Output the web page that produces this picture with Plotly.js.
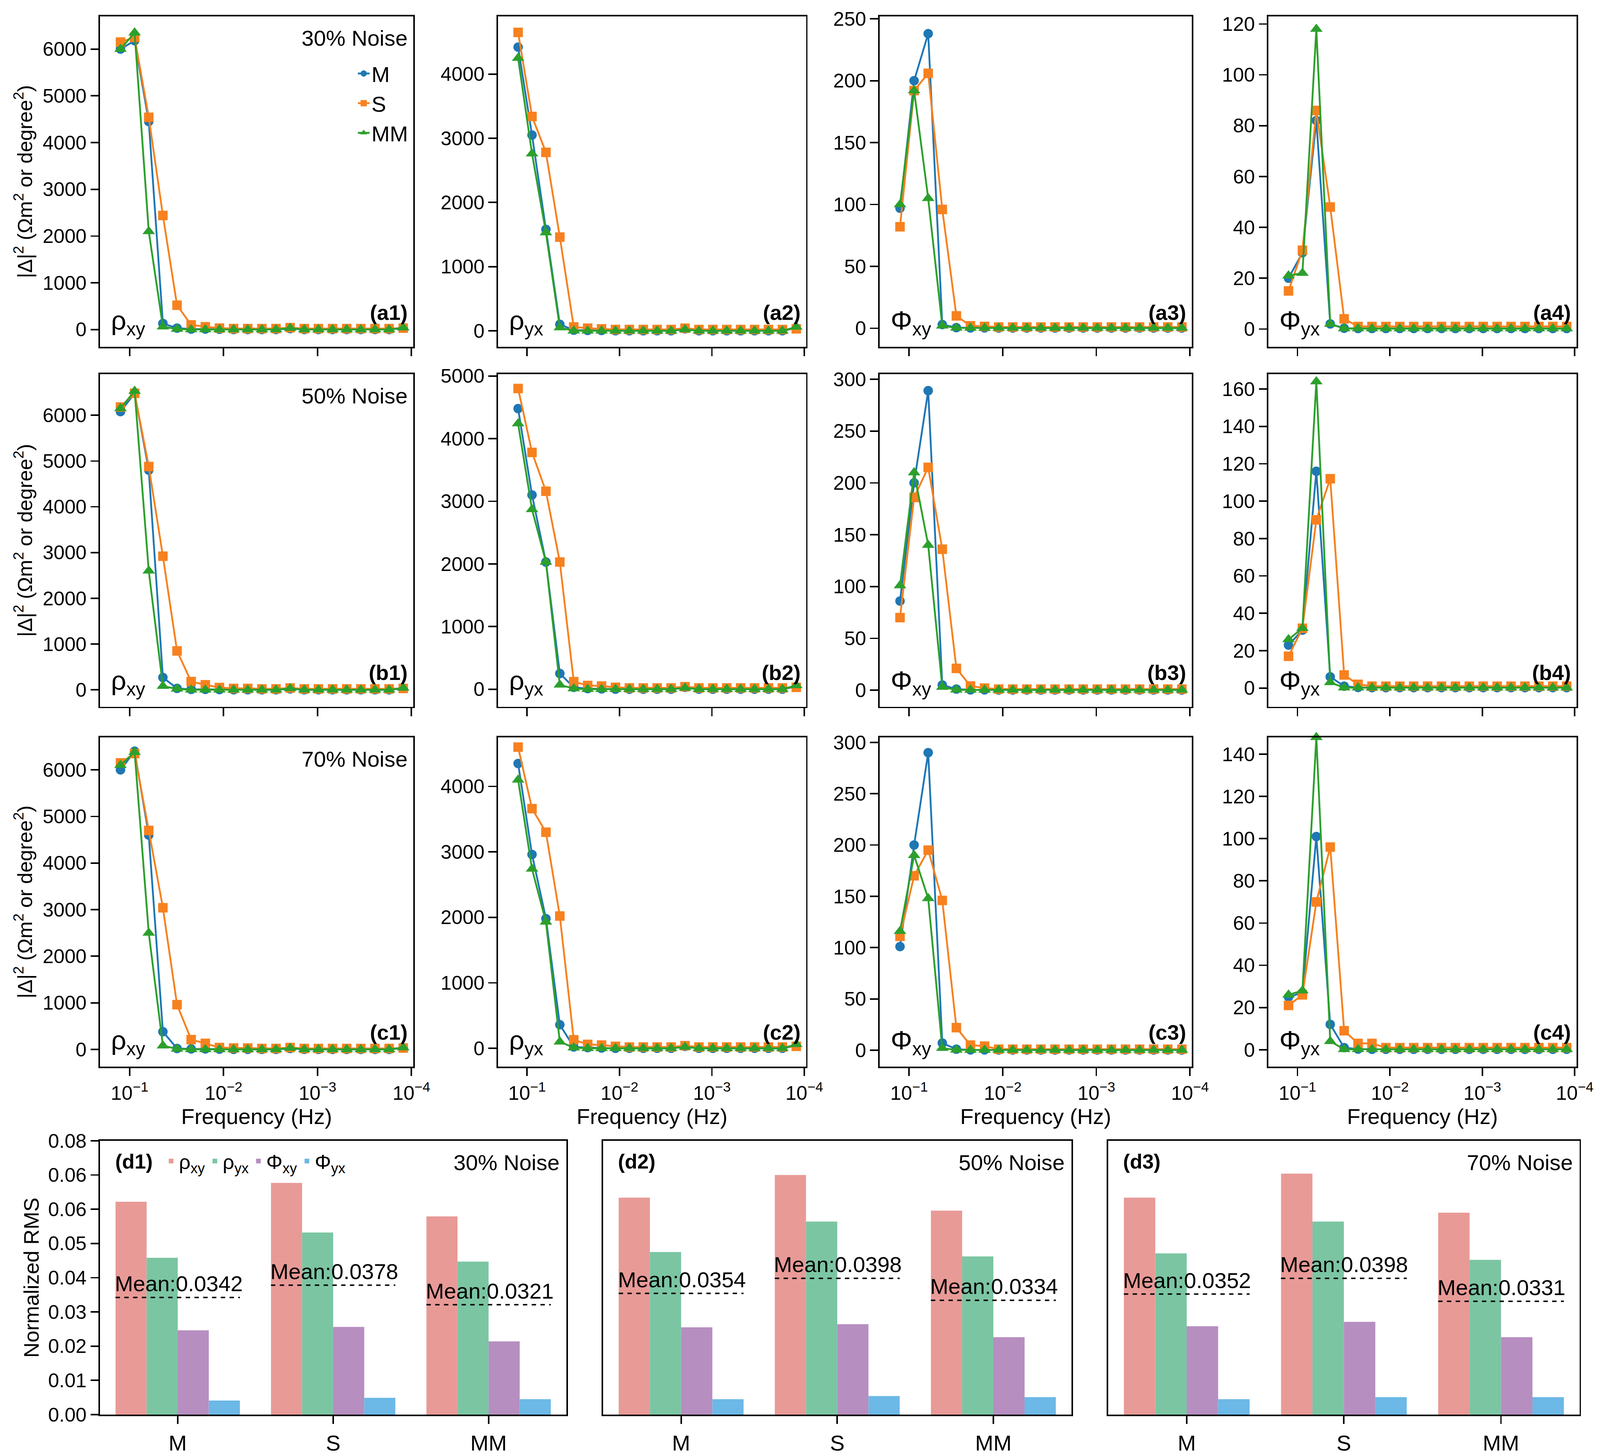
<!DOCTYPE html>
<html>
<head>
<meta charset="utf-8">
<script src="https://cdn.plot.ly/plotly-3.0.1.min.js"></script>
<style>html,body{margin:0;padding:0;overflow:hidden;background:#fff}</style>
</head>
<body>
<div id="graph"></div>
<script>
// Frequencies (Hz), half-octave steps
const freqs = [0.125, 0.0884, 0.0625, 0.0442, 0.03125, 0.0221, 0.015625, 0.01105, 0.0078125, 0.005524,
  0.0039063, 0.002762, 0.0019531, 0.001381, 0.00097656, 0.0006905, 0.00048828, 0.00034527, 0.00024414,
  0.00017263, 0.00012207];

const methods = ["M", "S", "MM"];
const noiseLabels = ["30% Noise", "50% Noise", "70% Noise"];
const panelTags = ["a", "b", "c"];
const compLabels = ["ρ<sub>xy</sub>", "ρ<sub>yx</sub>", "Φ<sub>xy</sub>", "Φ<sub>yx</sub>"];

// |Δ|² per panel [row][col] = {M, S, MM}
const lineData = [
  [
    { M: [6000, 6180, 4450, 130, 30, 10, 10, 5, 0, 0, 0, 0, 20, 0, 0, 0, 0, 0, 0, 0, 30],
      S: [6150, 6250, 4540, 2440, 520, 100, 60, 30, 20, 20, 20, 20, 40, 20, 20, 20, 20, 20, 20, 20, 30],
      MM: [6000, 6350, 2100, 60, 10, 0, 0, 0, 0, 0, 0, 0, 30, 0, 0, 0, 0, 0, 0, 0, 40] },
    { M: [4420, 3050, 1580, 100, 10, 5, 5, 0, 0, 0, 0, 0, 30, 0, 0, 0, 0, 0, 0, 0, 40],
      S: [4650, 3340, 2780, 1460, 60, 40, 30, 20, 20, 20, 20, 20, 40, 20, 20, 20, 20, 20, 20, 20, 30],
      MM: [4250, 2760, 1530, 50, 0, 0, 0, 0, 0, 0, 0, 0, 20, 0, 0, 0, 0, 0, 0, 0, 60] },
    { M: [97, 200, 238, 3, 0.5, 0.3, 0.3, 0.2, 0.2, 0.2, 0.2, 0.2, 0.2, 0.2, 0.2, 0.2, 0.2, 0.2, 0.2, 0.2, 0.2],
      S: [82, 192, 206, 96, 10, 2, 1.5, 1, 1, 1, 1, 1, 1, 1, 1, 1, 1, 1, 1, 1, 1],
      MM: [100, 192, 105, 2, 0.3, 0.2, 0.2, 0.2, 0.2, 0.2, 0.2, 0.2, 0.2, 0.2, 0.2, 0.2, 0.2, 0.2, 0.2, 0.2, 0.2] },
    { M: [20, 30, 82, 2, 0.3, 0.2, 0.2, 0.2, 0.2, 0.2, 0.2, 0.2, 0.2, 0.2, 0.2, 0.2, 0.2, 0.2, 0.2, 0.2, 0.2],
      S: [15, 31, 86, 48, 4, 1, 1, 1, 1, 1, 1, 1, 1, 1, 1, 1, 1, 1, 1, 1, 1],
      MM: [21, 22, 118, 2, 0.2, 0.2, 0.2, 0.2, 0.2, 0.2, 0.2, 0.2, 0.2, 0.2, 0.2, 0.2, 0.2, 0.2, 0.2, 0.2, 0.2] },
  ],
  [
    { M: [6080, 6480, 4800, 270, 30, 10, 10, 5, 0, 0, 0, 0, 20, 0, 0, 0, 0, 0, 0, 0, 30],
      S: [6180, 6480, 4880, 2920, 850, 180, 110, 50, 30, 30, 20, 20, 40, 20, 20, 20, 20, 20, 20, 20, 30],
      MM: [6150, 6530, 2600, 80, 20, 0, 0, 0, 0, 0, 0, 0, 30, 0, 0, 0, 0, 0, 0, 0, 40] },
    { M: [4480, 3100, 2030, 250, 30, 10, 5, 0, 0, 0, 0, 0, 30, 0, 0, 0, 0, 0, 0, 0, 40],
      S: [4800, 3780, 3160, 2030, 120, 60, 50, 30, 20, 20, 20, 20, 40, 20, 20, 20, 20, 20, 20, 20, 30],
      MM: [4240, 2870, 2030, 70, 10, 0, 0, 0, 0, 0, 0, 0, 20, 0, 0, 0, 0, 0, 0, 0, 60] },
    { M: [86, 200, 289, 5, 1, 0.3, 0.3, 0.2, 0.2, 0.2, 0.2, 0.2, 0.2, 0.2, 0.2, 0.2, 0.2, 0.2, 0.2, 0.2, 0.2],
      S: [70, 186, 215, 136, 21, 4, 2, 1, 1, 1, 1, 1, 1, 1, 1, 1, 1, 1, 1, 1, 1],
      MM: [101, 210, 140, 3, 0.3, 0.2, 0.2, 0.2, 0.2, 0.2, 0.2, 0.2, 0.2, 0.2, 0.2, 0.2, 0.2, 0.2, 0.2, 0.2, 0.2] },
    { M: [23, 31, 116, 6, 1, 0.3, 0.2, 0.2, 0.2, 0.2, 0.2, 0.2, 0.2, 0.2, 0.2, 0.2, 0.2, 0.2, 0.2, 0.2, 0.2],
      S: [17, 32, 90, 112, 7, 2, 1, 1, 1, 1, 1, 1, 1, 1, 1, 1, 1, 1, 1, 1, 1],
      MM: [26, 32, 164, 3, 0.2, 0.2, 0.2, 0.2, 0.2, 0.2, 0.2, 0.2, 0.2, 0.2, 0.2, 0.2, 0.2, 0.2, 0.2, 0.2, 0.2] },
  ],
  [
    { M: [6000, 6400, 4600, 380, 20, 10, 10, 5, 0, 0, 0, 0, 20, 0, 0, 0, 0, 0, 0, 0, 30],
      S: [6150, 6350, 4700, 3040, 960, 210, 130, 40, 30, 30, 20, 20, 40, 20, 20, 20, 20, 20, 20, 20, 30],
      MM: [6100, 6380, 2500, 80, 10, 0, 0, 0, 0, 0, 0, 0, 30, 0, 0, 0, 0, 0, 0, 0, 40] },
    { M: [4350, 2960, 1980, 360, 20, 10, 5, 0, 0, 0, 0, 0, 30, 0, 0, 0, 0, 0, 0, 0, 40],
      S: [4600, 3660, 3300, 2020, 130, 60, 50, 30, 20, 20, 20, 20, 40, 20, 20, 20, 20, 20, 20, 20, 30],
      MM: [4100, 2740, 1930, 100, 10, 0, 0, 0, 0, 0, 0, 0, 20, 0, 0, 0, 0, 0, 0, 0, 60] },
    { M: [101, 200, 290, 7, 1, 0.3, 0.3, 0.2, 0.2, 0.2, 0.2, 0.2, 0.2, 0.2, 0.2, 0.2, 0.2, 0.2, 0.2, 0.2, 0.2],
      S: [111, 170, 195, 146, 22, 5, 4, 1, 1, 1, 1, 1, 1, 1, 1, 1, 1, 1, 1, 1, 1],
      MM: [116, 190, 148, 2, 0.3, 0.2, 0.2, 0.2, 0.2, 0.2, 0.2, 0.2, 0.2, 0.2, 0.2, 0.2, 0.2, 0.2, 0.2, 0.2, 0.2] },
    { M: [25, 27, 101, 12, 1, 0.3, 0.2, 0.2, 0.2, 0.2, 0.2, 0.2, 0.2, 0.2, 0.2, 0.2, 0.2, 0.2, 0.2, 0.2, 0.2],
      S: [21, 26, 70, 96, 9, 3, 3, 1, 1, 1, 1, 1, 1, 1, 1, 1, 1, 1, 1, 1, 1],
      MM: [26, 28, 148, 4, 0.2, 0.2, 0.2, 0.2, 0.2, 0.2, 0.2, 0.2, 0.2, 0.2, 0.2, 0.2, 0.2, 0.2, 0.2, 0.2, 0.2] },
  ],
];

const yRanges = [
  [[-370, 6700], [-250, 4900], [-15, 252], [-7, 123]],
  [[-370, 6900], [-280, 5030], [-16, 305], [-10, 168]],
  [[-370, 6700], [-280, 4750], [-16, 305], [-8, 148]],
];
const yDticks = [1000, 1000, 50, 20];

// Normalized RMS bars [noise][component] over methods M, S, MM
const rmsData = [
  [[0.0622, 0.0677, 0.0579], [0.0458, 0.0532, 0.0447], [0.0246, 0.0256, 0.0214], [0.0041, 0.0049, 0.0045]],
  [[0.0634, 0.0700, 0.0596], [0.0475, 0.0564, 0.0462], [0.0255, 0.0264, 0.0226], [0.0045, 0.0054, 0.0051]],
  [[0.0634, 0.0704, 0.0590], [0.0471, 0.0564, 0.0452], [0.0258, 0.0271, 0.0226], [0.0045, 0.0051, 0.0051]],
];
const rmsMeans = [[0.0342, 0.0378, 0.0321], [0.0354, 0.0398, 0.0334], [0.0352, 0.0398, 0.0331]];
const rmsTickVals = [0, 0.01, 0.02, 0.03, 0.04, 0.05, 0.06, 0.07, 0.08];
const rmsTickText = ["0.00", "0.01", "0.02", "0.03", "0.04", "0.05", "0.06", "0.06", "0.08"];

const lineColors = { M: "#1f77b4", S: "#f7811f", MM: "#2ca02c" };
const lineSymbols = { M: "circle", S: "square", MM: "triangle-up" };
const barColors = ["#e89a97", "#7bc5a3", "#b68ec0", "#6cb8e6"];

// page size follows the real viewport; sizes below are given for a 4379px-wide page
const PW = window.innerWidth, PH = window.innerHeight;
const K = PW / 4379;
const z = (v) => v * K;

const W = 1568, H = 1335;
const colPx = [[98, 405], [488, 790], [862, 1168], [1243, 1545]];
const rowPx = [[15, 318], [343, 648], [676, 978]];
const dColPx = [[98, 555], [591, 1050], [1086, 1548]];
const dRowPx = [1046, 1297];
const fx = (p) => p / W;
const fy = (p) => 1 - p / H;

const FONT = "Liberation Sans, Arial, sans-serif";
const black = "#000";
const traces = [];
const layout = {
  width: PW, height: PH,
  margin: { l: 0, r: 0, t: 0, b: 0 },
  paper_bgcolor: "#fff", plot_bgcolor: "#fff",
  font: { family: FONT, size: z(54), color: black },
  showlegend: true,
  legend: { x: fx(402), y: fy(52), xanchor: "right", yanchor: "top", bgcolor: "rgba(0,0,0,0)",
    font: { size: z(60) }, tracegroupgap: 0, itemsizing: "trace" },
  legend2: { x: fx(160), y: fy(1050), xanchor: "left", yanchor: "top", orientation: "h",
    bgcolor: "rgba(0,0,0,0)", font: { size: z(56) }, tracegroupgap: 0 },
  barmode: "group", bargap: 0.2, bargroupgap: 0,
  annotations: [], shapes: [],
};

const axBase = {
  showline: true, linecolor: black, linewidth: z(4), mirror: true,
  ticks: "outside", ticklen: z(22), tickwidth: z(4), tickcolor: black,
  showgrid: false, zeroline: false,
};

const xTickVals = [0.1, 0.01, 0.001, 0.0001];
const xTickText = ["10<sup>−1</sup>", "10<sup>−2</sup>", "10<sup>−3</sup>", "10<sup>−4</sup>"];

for (let r = 0; r < 3; r++) {
  for (let c = 0; c < 4; c++) {
    const idx = r * 4 + c + 1;
    const xa = "x" + (idx === 1 ? "" : idx), ya = "y" + (idx === 1 ? "" : idx);
    const xk = "xaxis" + (idx === 1 ? "" : idx), yk = "yaxis" + (idx === 1 ? "" : idx);
    const d = lineData[r][c];
    methods.forEach((m) => {
      traces.push({
        x: freqs, y: d[m], xaxis: xa, yaxis: ya, type: "scatter", mode: "lines+markers", name: m,
        line: { color: lineColors[m], width: z(5) },
        marker: { color: lineColors[m], symbol: lineSymbols[m], size: z(m === "MM" ? 30 : 26) },
        showlegend: idx === 1, legend: "legend", cliponaxis: false,
      });
    });
    layout[xk] = Object.assign({}, axBase, {
      type: "log", range: [-0.685, -4.02], anchor: ya,
      domain: [fx(colPx[c][0]), fx(colPx[c][1])],
      tickvals: xTickVals, ticktext: xTickText, showticklabels: r === 2,
      tickfont: { size: z(54) },
      title: r === 2 ? { text: "Frequency (Hz)", font: { size: z(60) }, standoff: z(6) } : undefined,
    });
    layout[yk] = Object.assign({}, axBase, {
      range: yRanges[r][c], dtick: yDticks[c], tick0: 0, anchor: xa,
      domain: [fy(rowPx[r][1]), fy(rowPx[r][0])],
      tickfont: { size: z(54) },
      title: c === 0 ? { text: "|Δ|<sup>2</sup> (Ωm<sup>2</sup> or degree<sup>2</sup>)", font: { size: z(56) }, standoff: z(12) } : undefined,
    });
    layout.annotations.push({
      xref: "paper", yref: "paper", x: fx(colPx[c][0] + 10), y: fy(rowPx[r][1] - 6),
      xanchor: "left", yanchor: "bottom", showarrow: false, text: compLabels[c], font: { size: z(74) },
    });
    layout.annotations.push({
      xref: "paper", yref: "paper", x: fx(colPx[c][1] - 5), y: fy(rowPx[r][1] - 20),
      xanchor: "right", yanchor: "bottom", showarrow: false,
      text: "<b>(" + panelTags[r] + (c + 1) + ")</b>", font: { size: z(58) },
    });
    if (c === 0) {
      layout.annotations.push({
        xref: "paper", yref: "paper", x: fx(colPx[c][1] - 5), y: fy(rowPx[r][0] + 8),
        xanchor: "right", yanchor: "top", showarrow: false, text: noiseLabels[r], font: { size: z(60) },
      });
    }
  }
}

for (let n = 0; n < 3; n++) {
  const idx = 13 + n;
  const xa = "x" + idx, ya = "y" + idx;
  compLabels.forEach((lab, k) => {
    traces.push({
      x: methods, y: rmsData[n][k], xaxis: xa, yaxis: ya, type: "bar", name: lab,
      marker: { color: barColors[k] }, showlegend: n === 0, legend: "legend2",
    });
  });
  layout["xaxis" + idx] = Object.assign({}, axBase, {
    anchor: ya, domain: [fx(dColPx[n][0]), fx(dColPx[n][1])], range: [-0.5, 2.5],
    tickfont: { size: z(60) },
  });
  layout["yaxis" + idx] = Object.assign({}, axBase, {
    anchor: xa, domain: [fy(dRowPx[1]), fy(dRowPx[0])], range: [0, 0.08],
    tickvals: rmsTickVals, ticktext: rmsTickText, tickfont: { size: z(54) },
    showticklabels: n === 0, ticks: n === 0 ? "outside" : "",
    title: n === 0 ? { text: "Normalized RMS", font: { size: z(58) }, standoff: z(8) } : undefined,
  });
  rmsMeans[n].forEach((mv, i) => {
    layout.shapes.push({
      type: "line", xref: xa, yref: ya, x0: i - 0.4, x1: i + 0.4, y0: mv, y1: mv,
      line: { color: black, width: z(4), dash: "dash" },
    });
    layout.annotations.push({
      xref: xa, yref: ya, x: i - 0.41, y: mv, xanchor: "left", yanchor: "bottom", yshift: z(2),
      showarrow: false, text: "Mean:" + mv.toFixed(4), font: { size: z(60) },
    });
  });
  layout.annotations.push({
    xref: "paper", yref: "paper", x: fx(dColPx[n][1] - 6), y: fy(dRowPx[0] + 8),
    xanchor: "right", yanchor: "top", showarrow: false, text: noiseLabels[n], font: { size: z(60) },
  });
  layout.annotations.push({
    xref: "paper", yref: "paper", x: fx(dColPx[n][0] + 14), y: fy(dRowPx[0] + 8),
    xanchor: "left", yanchor: "top", showarrow: false, text: "<b>(d" + (n + 1) + ")</b>", font: { size: z(56) },
  });
}

Plotly.newPlot("graph", traces, layout, { staticPlot: true });
</script>
</body>
</html>
